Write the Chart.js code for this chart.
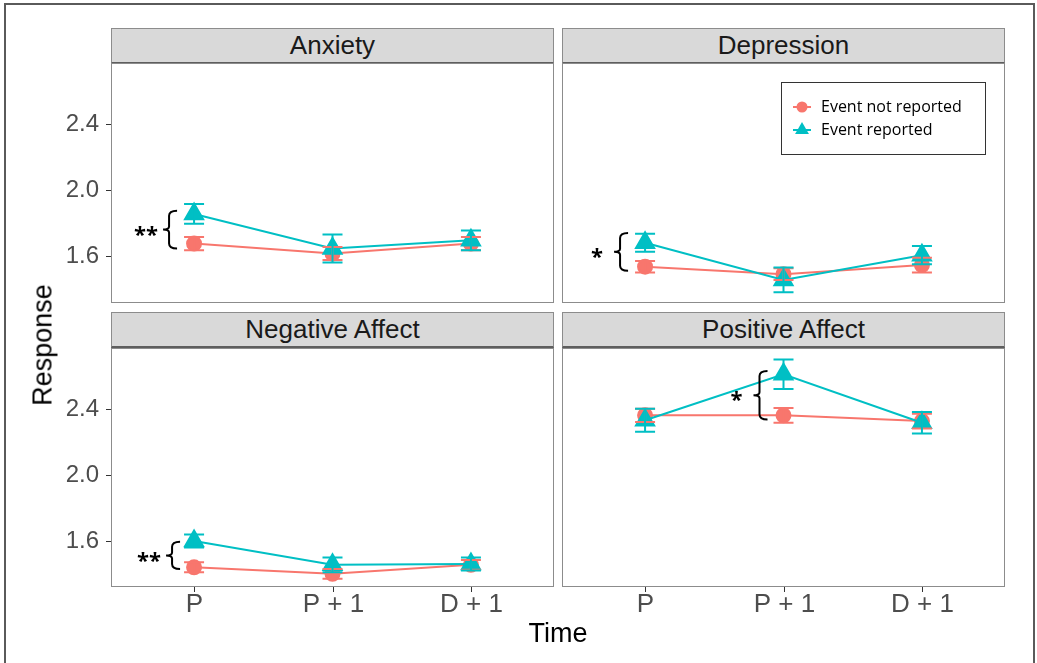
<!DOCTYPE html>
<html lang="en">
<head>
<meta charset="UTF-8">
<title>Response over time by event reporting</title>
<script src="https://cdn.jsdelivr.net/npm/chart.js"></script>
<style>
    body { margin: 0; background: #fff; }
    #fig {
        position: relative;
        width: 1037px;
        height: 663px;
        overflow: hidden;
        font-family: 'Liberation Sans', Arial, sans-serif;
    }
    .frame {
        position: absolute;
        left: 4px; top: 3px;
        width: 1031px; height: 700px;
        border: 2px solid #5a5a5a;
        box-sizing: border-box;
    }
    .strip {
        position: absolute;
        height: 36px;
        background: #d9d9d9;
        border: 1px solid #8c8c8c;
        border-bottom: 2px solid #5e5e5e;
        box-sizing: border-box;
        text-align: center;
        font-size: 26px;
        line-height: 33px;
        color: #1a1a1a;
    }
    canvas { position: absolute; }
    .axis-title { position: absolute; font-size: 27px; color: #000; white-space: nowrap; }
</style>
</head>
<body>
<div id="fig">
    <div class="frame"></div>

    <div class="strip" style="left:111px; top:28px; width:443px;">Anxiety</div>
    <div class="strip" style="left:562px; top:28px; width:443px;">Depression</div>
    <div class="strip" style="left:111px; top:312px; width:443px;">Negative Affect</div>
    <div class="strip" style="left:562px; top:312px; width:443px;">Positive Affect</div>

    <canvas id="anxiety" width="503" height="240" style="left:51px; top:63px;"></canvas>
    <canvas id="depression" width="443" height="240" style="left:562px; top:63px;"></canvas>
    <canvas id="negative" width="503" height="294" style="left:51px; top:348px;"></canvas>
    <canvas id="positive" width="443" height="294" style="left:562px; top:348px;"></canvas>

    <div class="axis-title" style="left:558px; top:633px; transform:translate(-50%,-50%);">Time</div>
    <div class="axis-title" style="left:43px; top:345px; transform:translate(-50%,-50%) rotate(-90deg);">Response</div>
</div>

<script>
    // categories and ticks
    const timeLabels = ['P', 'P + 1', 'D + 1'];
    const yTicks = [1.6, 2.0, 2.4];
    const yMin = 1.32;
    const yMax = 2.775;
    const seriesNames = ['Event not reported', 'Event reported'];

    // means and standard errors
    const anxietyNot = [1.68, 1.62, 1.68];
    const anxietyNotSe = [0.04, 0.04, 0.04];
    const anxietyRep = [1.86, 1.65, 1.70];
    const anxietyRepSe = [0.06, 0.085, 0.06];

    const depressionNot = [1.54, 1.495, 1.55];
    const depressionNotSe = [0.035, 0.035, 0.045];
    const depressionRep = [1.685, 1.46, 1.61];
    const depressionRepSe = [0.055, 0.075, 0.055];

    const negativeNot = [1.44, 1.40, 1.455];
    const negativeNotSe = [0.03, 0.03, 0.03];
    const negativeRep = [1.60, 1.455, 1.46];
    const negativeRepSe = [0.04, 0.045, 0.04];

    const positiveNot = [2.365, 2.365, 2.33];
    const positiveNotSe = [0.04, 0.045, 0.045];
    const positiveRep = [2.335, 2.615, 2.32];
    const positiveRepSe = [0.07, 0.09, 0.065];

    // significance brackets: category, span (data units), label
    const anxietyBracket = { cat: 0, top: 1.88, bottom: 1.65, label: '**', dx: 25 };
    const depressionBracket = { cat: 0, top: 1.745, bottom: 1.515, label: '*', dx: 25 };
    const negativeBracket = { cat: 0, top: 1.595, bottom: 1.43, label: '**', dx: 22 };
    const positiveBracket = { cat: 1, top: 2.635, bottom: 2.34, label: '*', dx: 24 };

    const RED = '#F8766D';
    const TEAL = '#00BFC4';

    const pts = vals => vals.map((v, i) => ({ x: i, y: v }));

    // panel border, error bars, brackets, x labels and legend
    const panelDecor = {
        id: 'panelDecor',
        afterDatasetsDraw(chart, args, opts) {
            const ctx = chart.ctx;
            const xs = chart.scales.x, ys = chart.scales.y;

            // error bars on top of points
            chart.data.datasets.slice().reverse().forEach(ds => {
                ctx.save();
                ctx.strokeStyle = ds.borderColor;
                ctx.lineWidth = 2;
                ds.data.forEach((p, i) => {
                    const x = xs.getPixelForValue(p.x);
                    const hi = ys.getPixelForValue(p.y + ds.errors[i]);
                    const lo = ys.getPixelForValue(p.y - ds.errors[i]);
                    ctx.beginPath();
                    ctx.moveTo(x, hi); ctx.lineTo(x, lo);
                    ctx.moveTo(x - 10, hi); ctx.lineTo(x + 10, hi);
                    ctx.moveTo(x - 10, lo); ctx.lineTo(x + 10, lo);
                    ctx.stroke();
                });
                ctx.restore();
            });

            // bracket
            const b = opts.bracket;
            if (b) {
                const x0 = xs.getPixelForValue(b.cat) - b.dx;
                const yT = ys.getPixelForValue(b.top);
                const yB = ys.getPixelForValue(b.bottom);
                const mid = (yT + yB) / 2;
                ctx.save();
                ctx.strokeStyle = '#000';
                ctx.lineWidth = 2;
                ctx.beginPath();
                ctx.moveTo(x0 + 8, yT);
                ctx.quadraticCurveTo(x0, yT, x0, yT + 5);
                ctx.lineTo(x0, mid - 3);
                ctx.quadraticCurveTo(x0, mid, x0 - 6, mid);
                ctx.quadraticCurveTo(x0, mid, x0, mid + 3);
                ctx.lineTo(x0, yB - 5);
                ctx.quadraticCurveTo(x0, yB, x0 + 8, yB);
                ctx.stroke();
                ctx.fillStyle = '#000';
                ctx.font = 'bold 22px "Open Sans"';
                ctx.textAlign = 'center';
                ctx.textBaseline = 'middle';
                ctx.fillText(b.label, x0 - 23, mid + 6);
                ctx.restore();
            }
        },
        afterDraw(chart, args, opts) {
            const ctx = chart.ctx;
            const a = chart.chartArea;
            const xs = chart.scales.x;

            ctx.save();
            ctx.strokeStyle = '#8c8c8c';
            ctx.lineWidth = 1;
            ctx.strokeRect(a.left + 0.5, a.top + 0.5, a.right - a.left - 1, a.bottom - a.top - 1);
            ctx.restore();

            if (opts.xLabels) {
                ctx.save();
                ctx.strokeStyle = '#333';
                ctx.lineWidth = 1;
                ctx.fillStyle = '#4d4d4d';
                ctx.font = '26px "Liberation Sans"';
                ctx.textAlign = 'center';
                ctx.textBaseline = 'middle';
                timeLabels.forEach((lab, i) => {
                    const x = Math.round(xs.getPixelForValue(i)) + 0.5;
                    ctx.beginPath();
                    ctx.moveTo(x, a.bottom);
                    ctx.lineTo(x, a.bottom + 5);
                    ctx.stroke();
                    ctx.fillText(lab, x, a.bottom + 18);
                });
                ctx.restore();
            }

            if (opts.legend) {
                const L = a.left + 219, T = a.top + 19;
                ctx.save();
                ctx.fillStyle = '#fff';
                ctx.fillRect(L, T, 204, 72);
                ctx.strokeStyle = '#333';
                ctx.lineWidth = 1;
                ctx.strokeRect(L + 0.5, T + 0.5, 204, 72);
                const rows = [
                    { y: T + 25, color: RED, shape: 'circle', r: 5.5 },
                    { y: T + 48, color: TEAL, shape: 'triangle', r: 8 }
                ];
                rows.forEach((r, i) => {
                    const cx = L + 21;
                    ctx.strokeStyle = r.color;
                    ctx.fillStyle = r.color;
                    ctx.lineWidth = 2;
                    ctx.beginPath();
                    ctx.moveTo(cx - 9, r.y); ctx.lineTo(cx + 9, r.y);
                    ctx.stroke();
                    ctx.beginPath();
                    if (r.shape === 'circle') {
                        ctx.arc(cx, r.y, r.r, 0, Math.PI * 2);
                    } else {
                        ctx.moveTo(cx, r.y - r.r);
                        ctx.lineTo(cx + r.r * 0.866, r.y + r.r * 0.5);
                        ctx.lineTo(cx - r.r * 0.866, r.y + r.r * 0.5);
                        ctx.closePath();
                    }
                    ctx.fill();
                    ctx.fillStyle = '#000';
                    ctx.font = '16px "Open Sans"';
                    ctx.textAlign = 'left';
                    ctx.textBaseline = 'middle';
                    ctx.fillText(seriesNames[i], L + 40, r.y);
                });
                ctx.restore();
            }
        }
    };

    function makePanel(id, notVals, notSe, repVals, repSe, bracket, showY, showX, showLegend) {
        return new Chart(document.getElementById(id), {
            type: 'line',
            data: {
                datasets: [
                    {
                        label: seriesNames[1],
                        data: pts(repVals),
                        errors: repSe,
                        borderColor: TEAL,
                        backgroundColor: TEAL,
                        pointBackgroundColor: TEAL,
                        pointBorderColor: TEAL,
                        pointStyle: 'triangle',
                        pointRadius: 10.5,
                        borderWidth: 2,
                        tension: 0,
                        order: 0
                    },
                    {
                        label: seriesNames[0],
                        data: pts(notVals),
                        errors: notSe,
                        borderColor: RED,
                        backgroundColor: RED,
                        pointBackgroundColor: RED,
                        pointBorderColor: RED,
                        pointStyle: 'circle',
                        pointRadius: 7,
                        borderWidth: 2,
                        tension: 0,
                        order: 1
                    }
                ]
            },
            options: {
                responsive: false,
                animation: false,
                events: [],
                layout: { autoPadding: false, padding: { top: 0, right: 0, left: 0, bottom: showX ? 55 : 0 } },
                plugins: {
                    legend: { display: false },
                    tooltip: { enabled: false },
                    panelDecor: { bracket: bracket, xLabels: showX, legend: showLegend }
                },
                scales: {
                    x: { type: 'linear', min: -0.6, max: 2.6, display: false },
                    y: {
                        type: 'linear',
                        min: yMin,
                        max: yMax,
                        display: showY,
                        position: 'left',
                        afterBuildTicks: ax => { ax.ticks = yTicks.map(v => ({ value: v })); },
                        afterFit: ax => { ax.width = showY ? 60 : 0; ax.paddingTop = 0; ax.paddingBottom = 0; },
                        grid: { drawOnChartArea: false, drawTicks: true, tickLength: 5, color: '#333' },
                        border: { display: false },
                        ticks: {
                            font: { family: 'Liberation Sans', size: 24 },
                            color: '#4d4d4d',
                            padding: 7,
                            callback: v => v.toFixed(1)
                        }
                    }
                }
            },
            plugins: [panelDecor]
        });
    }

    makePanel('anxiety', anxietyNot, anxietyNotSe, anxietyRep, anxietyRepSe, anxietyBracket, true, false, false);
    makePanel('depression', depressionNot, depressionNotSe, depressionRep, depressionRepSe, depressionBracket, false, false, true);
    makePanel('negative', negativeNot, negativeNotSe, negativeRep, negativeRepSe, negativeBracket, true, true, false);
    makePanel('positive', positiveNot, positiveNotSe, positiveRep, positiveRepSe, positiveBracket, false, true, false);
</script>
</body>
</html>
